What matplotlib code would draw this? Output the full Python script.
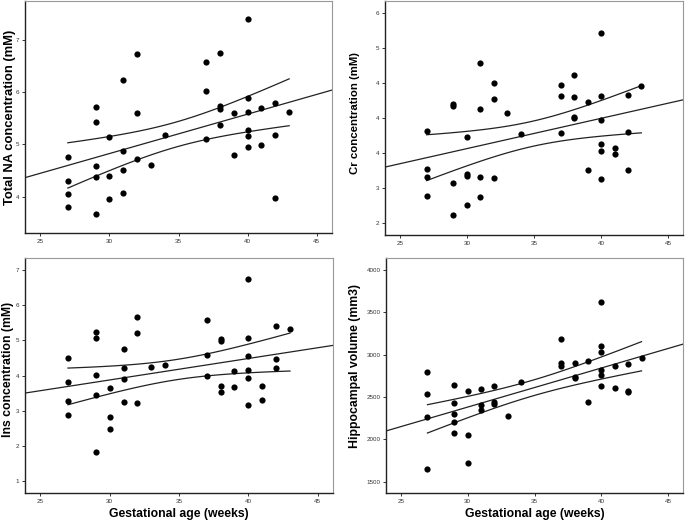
import numpy as np
import matplotlib
matplotlib.use('Agg')
import matplotlib.pyplot as plt

plt.rcParams['font.family'] = ['Liberation Sans', 'DejaVu Sans']

# gestational age (weeks) and measures
na_age = [27, 27, 27, 27, 29, 29, 29, 29, 29, 30, 30, 30, 31, 31, 31, 31, 32, 32, 32, 33, 34,
          37, 37, 37, 38, 38, 38, 38, 39, 39, 40, 40, 40, 40, 40, 40, 41, 41, 42, 42, 42, 43]
na_val = [4.76, 4.30, 4.06, 3.81, 5.72, 5.42, 4.59, 4.37, 3.67, 5.15, 4.39, 3.96, 6.24, 4.87, 4.52, 4.08,
          6.72, 5.61, 4.73, 4.61, 5.19, 6.57, 6.02, 5.10, 6.74, 5.73, 5.68, 5.37, 5.61, 4.79,
          7.39, 5.89, 5.63, 5.27, 5.17, 4.95, 5.69, 4.99, 5.79, 5.18, 3.97, 5.63]

cr_age = [27, 27, 27, 27, 29, 29, 29, 29, 30, 30, 30, 30, 31, 31, 31, 31, 32, 32, 32, 33, 34,
          37, 37, 37, 38, 38, 38, 38, 39, 39, 40, 40, 40, 40, 40, 40, 41, 41, 42, 42, 42, 43]
cr_val = [4.64, 3.54, 3.33, 2.79, 5.40, 5.34, 3.16, 2.24, 4.46, 3.40, 3.35, 2.53, 6.59, 5.28, 3.33, 2.76,
          6.02, 5.55, 3.29, 5.16, 4.54, 5.95, 5.64, 4.59, 6.23, 5.60, 5.04, 5.00, 5.47, 3.53,
          7.45, 5.64, 4.94, 4.26, 4.07, 3.27, 4.16, 3.99, 5.66, 4.62, 3.53, 5.93]
cr_ticks = [2, 3, 4, 5, 6, 7, 8]
cr_ticklabels = ['2', '3', '4', '4', '4', '5', '6']

ins_age = [27, 27, 27, 27, 29, 29, 29, 29, 29, 30, 30, 30, 31, 31, 31, 31, 32, 32, 32, 33, 34,
           37, 37, 37, 38, 38, 38, 38, 39, 39, 40, 40, 40, 40, 40, 40, 41, 41, 42, 42, 42, 43]
ins_val = [4.51, 3.82, 3.28, 2.89, 5.24, 5.05, 4.02, 3.44, 1.83, 3.64, 2.82, 2.49, 4.76, 4.21, 3.89, 3.26,
           5.67, 5.20, 3.21, 4.25, 4.29, 5.57, 4.57, 4.00, 5.03, 4.99, 3.69, 3.54, 4.13, 3.67,
           6.73, 5.07, 4.54, 4.15, 3.94, 3.17, 3.71, 3.30, 5.41, 4.47, 4.20, 5.33]

hip_age = [27, 27, 27, 27, 29, 29, 29, 29, 29, 30, 30, 30, 31, 31, 31, 32, 32, 32, 33, 34,
           37, 37, 37, 38, 38, 38, 39, 39, 40, 40, 40, 40, 40, 40, 41, 41, 42, 42, 42, 43]
hip_val = [2791, 2536, 2261, 1653, 2646, 2426, 2297, 2206, 2077, 2571, 2057, 1728, 2591, 2410, 2348,
           2626, 2446, 2422, 2281, 2681, 3180, 2901, 2870, 2901, 2740, 2721, 2925, 2442,
           3619, 3105, 3031, 2819, 2756, 2626, 2870, 2611, 2885, 2571, 2556, 2960]

x_ticks = [25, 30, 35, 40, 45]


def panel(rect, x, y, ylim, yticks, ylabel, label_pos, label_size, xlabel=None, yticklabels=None):
    ax = fig.add_axes(rect)
    x = np.array(x, float)
    y = np.array(y, float)
    xlim = (23.9, 46.1)
    # least squares fit with 95% CI of the mean
    b, a = np.polyfit(x, y, 1)
    n = len(x)
    resid = y - (a + b * x)
    s = np.sqrt(np.sum(resid ** 2) / (n - 2))
    sxx = np.sum((x - x.mean()) ** 2)
    xs = np.linspace(x.min(), x.max(), 100)
    se = s * np.sqrt(1.0 / n + (xs - x.mean()) ** 2 / sxx)
    t = 2.02
    ax.plot(xlim, [a + b * xlim[0], a + b * xlim[1]], color='#222222', lw=0.9)
    ax.plot(xs, a + b * xs + t * se, color='#222222', lw=0.9)
    ax.plot(xs, a + b * xs - t * se, color='#222222', lw=0.9)
    ax.scatter(x, y, s=20, color='black', zorder=3, linewidths=0)
    ax.set_xlim(xlim)
    ax.set_ylim(ylim)
    ax.set_xticks(x_ticks)
    ax.set_xticklabels([str(v) for v in x_ticks])
    ax.set_yticks(yticks)
    if yticklabels is not None:
        ax.set_yticklabels(yticklabels)
    ax.tick_params(labelsize=4.5, length=2.5, width=0.7, pad=1.5, colors='#333333')
    for side in ['top', 'right']:
        ax.spines[side].set_color('#999999')
        ax.spines[side].set_linewidth(0.8)
    for side in ['left', 'bottom']:
        ax.spines[side].set_color('#222222')
        ax.spines[side].set_linewidth(1.0)
    ax.set_ylabel(ylabel, fontsize=label_size, fontweight='bold', va='center')
    ax.yaxis.set_label_coords(*label_pos)
    if xlabel:
        ax.set_xlabel(xlabel, fontsize=8.8, fontweight='bold', labelpad=3)
    return ax


fig = plt.figure(figsize=(6.85, 5.23), dpi=100)

panel([25 / 685, 1 - 233 / 523, 307 / 685, 232 / 523], na_age, na_val, (3.31, 7.74),
      [4, 5, 6, 7], 'Total NA concentration (mM)', (-0.049, 0.5), 9.4)
panel([385 / 685, 1 - 235 / 523, 298 / 685, 234 / 523], cr_age, cr_val, (1.67, 8.35),
      cr_ticks, 'Cr concentration (mM)', (-0.10, 0.52), 8.2, yticklabels=cr_ticklabels)
panel([25 / 685, 1 - 493 / 523, 308 / 685, 235 / 523], ins_age, ins_val, (0.67, 7.33),
      [1, 2, 3, 4, 5, 6, 7], 'Ins concentration (mM)', (-0.055, 0.525), 8.8,
      xlabel='Gestational age (weeks)')
panel([386 / 685, 1 - 493 / 523, 297 / 685, 235 / 523], hip_age, hip_val, (1370, 4137),
      [1500, 2000, 2500, 3000, 3500, 4000], 'Hippocampal volume (mm3)', (-0.104, 0.54), 8.8,
      xlabel='Gestational age (weeks)')

fig.savefig('out.png', dpi=100)
